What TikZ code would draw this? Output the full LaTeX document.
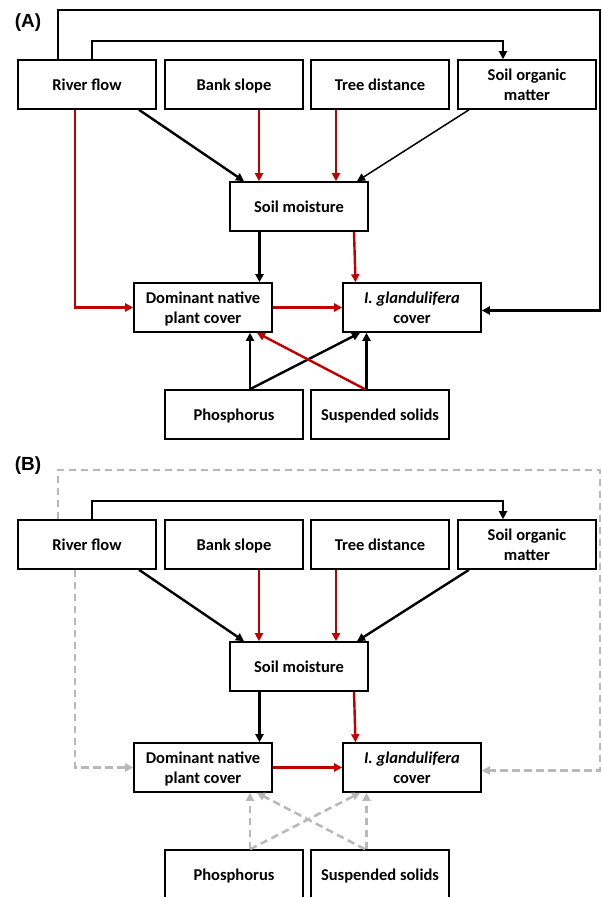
\documentclass[tikz,border=0pt]{standalone}
\usepackage{fontspec}
\setmainfont{Carlito}
\newfontfamily\labfont{Liberation Sans}
\usetikzlibrary{arrows.meta}
\definecolor{myred}{HTML}{C00000}
\definecolor{mygray}{HTML}{B8B8B8}
\newcommand\mystrut{\rule[-4pt]{0pt}{20.4pt}}
\begin{document}
\begin{tikzpicture}[x=1pt,y=-1pt,
  box/.style={draw=black,line width=1.6pt,minimum width=138pt,minimum height=49pt,
    inner sep=0pt,align=center,font=\fontsize{16.5}{20.5}\selectfont\bfseries},
  tip/.style={-{Triangle[length=8pt,width=8pt]}},
  blk/.style={tip,draw=black,line width=2.4pt},
  blkthin/.style={tip,draw=black,line width=1.5pt},
  rd/.style={tip,draw=myred,line width=2.4pt},
  gry/.style={tip,draw=mygray,line width=2.5pt,dash pattern=on 7.5pt off 4.5pt},
  lab/.style={font=\labfont\fontsize{19}{22}\selectfont\bfseries,inner sep=0pt}]
\useasboundingbox (0,0) rectangle (602,897);
\fill[white] (0,0) rectangle (602,897);
% ---------- Panel A ----------
\node[lab] (labA) at (28,23) {(A)};
\node[box] (rf) at (87,84.5) {\mystrut River flow};
\node[box] (bs) at (234,84.5) {\mystrut Bank slope};
\node[box] (td) at (380,84.5) {\mystrut Tree distance};
\node[box] (som) at (527,84.5) {\mystrut Soil organic\\\mystrut matter};
\node[box] (sm) at (299,206.5) {\mystrut Soil moisture};
\node[box] (dn) at (203,307.5) {\mystrut Dominant native\\\mystrut plant cover};
\node[box] (ig) at (412,307.5) {\mystrut\textit{I. glandulifera}\\\mystrut cover};
\node[box] (ph) at (234,414.5) {\mystrut Phosphorus};
\node[box] (ss) at (380,414.5) {\mystrut Suspended solids};
\coordinate (A1) at (600,10);
\coordinate (A2) at (503,41);
\draw[blk] ([xshift=-29pt]rf.north) |- (A1) |- ([yshift=-3pt]ig.east);
\draw[blk] ([xshift=5pt]rf.north) |- (A2) -- ([xshift=-24pt]som.north);
\draw[blk] ([xshift=52pt]rf.south) -- ([xshift=-55pt]sm.north);
\draw[rd] ([xshift=25pt]bs.south) -- ([xshift=-40pt]sm.north);
\draw[rd] ([xshift=-44pt]td.south) -- ([xshift=37pt]sm.north);
\draw[blkthin] ([xshift=-58pt]som.south) -- ([xshift=58pt]sm.north);
\draw[rd] ([xshift=-12pt]rf.south) |- (dn.west);
\draw[blk] ([xshift=-39.5pt]sm.south) -- ([xshift=56.5pt]dn.north);
\draw[rd] ([xshift=55pt]sm.south) -- ([xshift=-56.5pt]ig.north);
\draw[rd] (dn.east) -- (ig.west);
\draw[blk] ([xshift=16pt]ph.north) -- ([xshift=47pt]dn.south);
\draw[blk] ([xshift=16pt]ph.north) -- ([xshift=-52pt]ig.south);
\draw[blk] ([xshift=-13.5pt]ss.north) -- ([xshift=-45.5pt]ig.south);
\draw[rd] ([xshift=-15pt]ss.north) -- ([xshift=54pt]dn.south);
% ---------- Panel B ----------
\node[lab] (labB) at (28,466) {(B)};
\node[box] (rfB) at (87,544.5) {\mystrut River flow};
\node[box] (bsB) at (234,544.5) {\mystrut Bank slope};
\node[box] (tdB) at (380,544.5) {\mystrut Tree distance};
\node[box] (somB) at (527,544.5) {\mystrut Soil organic\\\mystrut matter};
\node[box] (smB) at (299,666.5) {\mystrut Soil moisture};
\node[box] (dnB) at (203,767.5) {\mystrut Dominant native\\\mystrut plant cover};
\node[box] (igB) at (412,767.5) {\mystrut\textit{I. glandulifera}\\\mystrut cover};
\node[box] (phB) at (234,874.5) {\mystrut Phosphorus};
\node[box] (ssB) at (380,874.5) {\mystrut Suspended solids};
\coordinate (B1) at (600,470);
\coordinate (B2) at (503,501);
\draw[gry] ([xshift=-29pt]rfB.north) |- (B1) |- ([yshift=-3pt]igB.east);
\draw[blk] ([xshift=5pt]rfB.north) |- (B2) -- ([xshift=-24pt]somB.north);
\draw[blk] ([xshift=52pt]rfB.south) -- ([xshift=-55pt]smB.north);
\draw[rd] ([xshift=25pt]bsB.south) -- ([xshift=-40pt]smB.north);
\draw[rd] ([xshift=-44pt]tdB.south) -- ([xshift=37pt]smB.north);
\draw[blk] ([xshift=-58pt]somB.south) -- ([xshift=58pt]smB.north);
\draw[gry] ([xshift=-12pt]rfB.south) |- (dnB.west);
\draw[blk] ([xshift=-39.5pt]smB.south) -- ([xshift=56.5pt]dnB.north);
\draw[rd] ([xshift=55pt]smB.south) -- ([xshift=-56.5pt]igB.north);
\draw[rd] (dnB.east) -- (igB.west);
\draw[gry] ([xshift=16pt]phB.north) -- ([xshift=47pt]dnB.south);
\draw[gry] ([xshift=16pt]phB.north) -- ([xshift=-52pt]igB.south);
\draw[gry] ([xshift=-13.5pt]ssB.north) -- ([xshift=-45.5pt]igB.south);
\draw[gry] ([xshift=-15pt]ssB.north) -- ([xshift=54pt]dnB.south);
\end{tikzpicture}
\end{document}
